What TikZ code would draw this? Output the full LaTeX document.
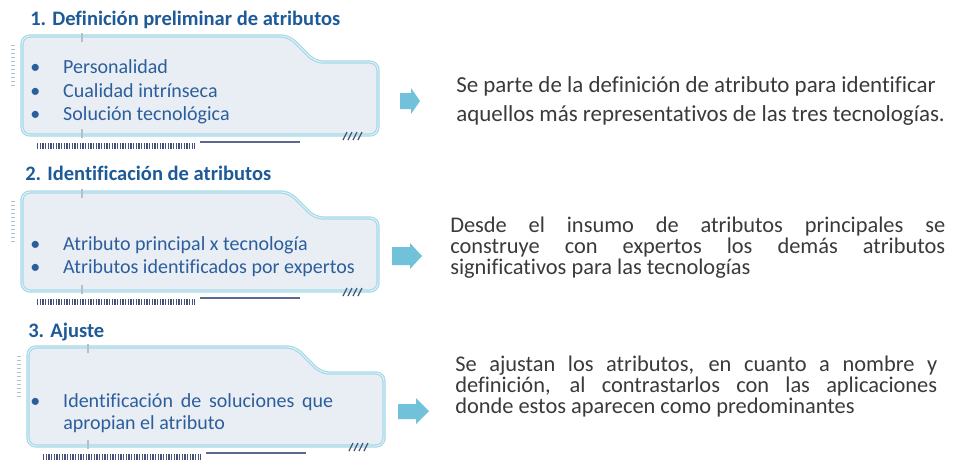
\documentclass[tikz,border=0pt]{standalone}
\usepackage{fontspec}
\setmainfont[Ligatures={NoCommon}]{Carlito}
\definecolor{framec}{HTML}{A6D9E7}
\definecolor{framein}{HTML}{E4F3F8}
\definecolor{fillc}{HTML}{E9EEF5}
\definecolor{arrowc}{HTML}{72C1DA}
\definecolor{titlec}{HTML}{1E5A98}
\definecolor{itemc}{HTML}{2C5E9C}
\definecolor{descc}{HTML}{3A3A3A}
\definecolor{stripec}{HTML}{44527A}
\definecolor{barc}{HTML}{5B6890}
\definecolor{slashc}{HTML}{4A5578}
\definecolor{tickc}{HTML}{B4C0CC}
\newcommand\bl{\makebox[24.75pt][l]{•}}
\newcommand\nobl{\hspace*{24.75pt}}
\tikzset{
  frameline/.style={draw=framec, line width=0.9pt, double=framein, double distance=0.7pt, fill=fillc, rounded corners=6},
  tickline/.style={draw=tickc, line width=0.8pt},
  rulerline/.style={draw=tickc, line width=2.4pt, dash pattern=on 0.7pt off 2.3pt},
  stripeline/.style={draw=stripec, line width=4.5pt, dash pattern=on 1pt off 1pt},
  barline/.style={draw=barc, line width=1.5pt},
  slashline/.style={draw=slashc, line width=0.9pt},
  arrowshape/.style={fill=arrowc},
  titletxt/.style={anchor=base west, inner sep=0pt, text=titlec, font=\fontsize{15.4}{18}\selectfont\bfseries},
  itemtxt/.style={anchor=base west, inner sep=0pt, text=itemc, font=\fontsize{15}{18}\selectfont},
  descbig/.style={anchor=base west, inner sep=0pt, text=descc, font=\fontsize{17.2}{20}\selectfont},
  descsmall/.style={anchor=base west, inner sep=0pt, text=descc, text height=11pt, text depth=3pt, font=\fontsize{16.8}{18}\selectfont},
  panelframe/.pic={
    \draw[frameline] (22,90) -- (22,36) -- (289,36) -- (315,62) -- (378,62) -- (378,135) -- (22,135) -- cycle;
    \draw[tickline] (82,33) -- (82,42);
    \draw[tickline] (82,129) -- (82,138);
    \draw[rulerline] (13,45) -- (13,86);
    \draw[stripeline] (37,146) -- (195,146);
    \draw[barline] (200,142) -- (300,142);
    \foreach \i in {0,...,3} \draw[slashline] (343+5*\i,140) -- (347+5*\i,132);
  }
}
\begin{document}
\begin{tikzpicture}[x=0.75pt,y=-0.75pt]
\useasboundingbox (0,0) rectangle (958,472);
\fill[white] (0,0) rectangle (958,472);

% panels
\pic at (0,0) {panelframe};
\pic at (0,156) {panelframe};
\pic at (6,311) {panelframe};

% titles
\node[titletxt] (t1) at (30,25) {1. Definición preliminar de atributos};
\node[titletxt] (t2) at (25,180) {2. Identificación de atributos};
\node[titletxt] (t3) at (28,337) {3. Ajuste};

% items
\node[itemtxt] (i1a) at (30,73) {\bl Personalidad};
\node[itemtxt] (i1b) at (30,97) {\bl Cualidad intrínseca};
\node[itemtxt] (i1c) at (30,120) {\bl Solución tecnológica};
\node[itemtxt] (i2a) at (30,250) {\bl Atributo principal x tecnología};
\node[itemtxt] (i2b) at (30,273) {\bl Atributos identificados por expertos};
\node[itemtxt] (i3a) at (30,407) {\bl\makebox[202.5pt][s]{Identificación de soluciones que}};
\node[itemtxt] (i3b) at (30,429) {\nobl apropian el atributo};

% arrows
\fill[arrowshape] (400,93) -- (411,93) -- (411,88) -- (420,101) -- (411,114) -- (411,109) -- (400,109) -- cycle;
\fill[arrowshape] (392,247) -- (410,247) -- (410,243) -- (422,256) -- (410,269) -- (410,265) -- (392,265) -- cycle;
\fill[arrowshape] (398,404) -- (416,404) -- (416,398) -- (429,411) -- (416,424) -- (416,419) -- (398,419) -- cycle;

% descriptions
\node[descbig] (d1a) at (456,92) {Se parte de la definición de atributo para identificar};
\node[descbig] (d1b) at (456,121) {aquellos más representativos de las tres tecnologías.};

\node[descsmall] (d2a) at (450,232) {\makebox[371.25pt][s]{Desde el insumo de atributos principales se}};
\node[descsmall] (d2b) at (450,253) {\makebox[371.25pt][s]{construye con expertos los demás atributos}};
\node[descsmall] (d2c) at (450,274) {significativos para las tecnologías};

\node[descsmall] (d3a) at (455,371) {\makebox[361.5pt][s]{Se ajustan los atributos, en cuanto a nombre y}};
\node[descsmall] (d3b) at (455,392) {\makebox[361.5pt][s]{definición, al contrastarlos con las aplicaciones}};
\node[descsmall] (d3c) at (455,413) {donde estos aparecen como predominantes};
\end{tikzpicture}
\end{document}
